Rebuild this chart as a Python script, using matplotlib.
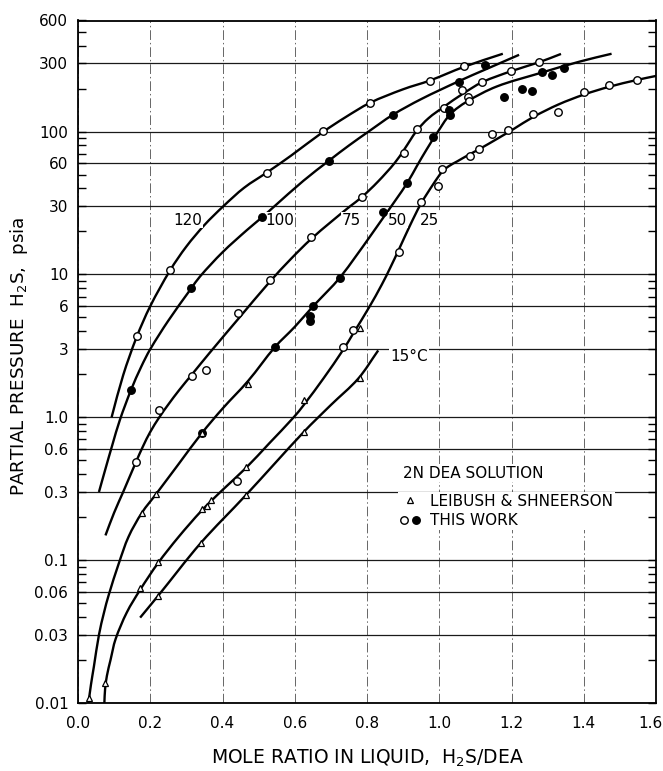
import matplotlib
matplotlib.use("Agg")
import numpy as np
import matplotlib.pyplot as plt
import matplotlib.transforms as mtransforms
from matplotlib.lines import Line2D
from matplotlib.path import Path
from matplotlib.patches import PathPatch
from matplotlib.legend_handler import HandlerTuple
from matplotlib.ticker import FixedLocator, NullFormatter

plt.rcParams['font.family'] = ['DejaVu Sans']

# ---------------- data ----------------
# smooth isotherm curves (x = mole ratio H2S/DEA, y = partial pressure psia)
c120_x = [0.093, 0.125, 0.162, 0.20, 0.255, 0.30, 0.35, 0.402, 0.46, 0.524, 0.59, 0.677, 0.74, 0.808, 0.90, 0.974, 1.068, 1.176]
c120_y = [1.0, 1.97, 3.63, 6.0, 10.7, 15.7, 22.2, 30, 40.5, 52, 68, 99, 126, 159, 198, 228, 284, 351]

c100_x = [0.058, 0.075, 0.095, 0.116, 0.147, 0.175, 0.20, 0.25, 0.312, 0.338, 0.40, 0.467, 0.51, 0.541, 0.624, 0.696, 0.75, 0.804, 0.871, 0.95, 1.055, 1.13, 1.221]
c100_y = [0.3, 0.427, 0.64, 0.96, 1.56, 2.26, 3.0, 4.75, 7.9, 9.7, 14.3, 20.4, 25.2, 29.6, 45.3, 63, 80, 100, 131, 169, 226, 274, 345]

c75_x = [0.076, 0.10, 0.125, 0.161, 0.18, 0.20, 0.225, 0.25, 0.28, 0.315, 0.365, 0.444, 0.531, 0.59, 0.644, 0.70, 0.753, 0.785, 0.83, 0.877, 0.903, 0.937, 0.97, 1.014, 1.065, 1.119, 1.199, 1.276, 1.337]
c75_y = [0.149, 0.215, 0.30, 0.49, 0.627, 0.79, 1.0, 1.23, 1.55, 1.99, 2.84, 4.9, 8.9, 12.9, 17.6, 23.3, 30, 34.7, 44.6, 60.5, 75, 101, 124, 150, 184, 222, 265, 306, 350]

c50_x = [0.029, 0.036, 0.044, 0.058, 0.072, 0.085, 0.113, 0.14, 0.177, 0.217, 0.278, 0.342, 0.40, 0.471, 0.545, 0.60, 0.651, 0.69, 0.725, 0.77, 0.808, 0.845, 0.88, 0.912, 0.939, 0.965, 0.993, 1.03, 1.076, 1.159, 1.279, 1.39, 1.477]
c50_y = [0.01, 0.0135, 0.018, 0.030, 0.043, 0.057, 0.095, 0.146, 0.215, 0.292, 0.469, 0.77, 1.15, 1.8, 3.1, 4.3, 6.0, 7.6, 9.5, 13.5, 18.4, 25, 33.4, 44, 58, 75, 97, 132, 162, 207, 257, 310, 351]

c25_x = [0.073, 0.075, 0.08, 0.09, 0.104, 0.135, 0.172, 0.221, 0.278, 0.342, 0.40, 0.464, 0.53, 0.597, 0.626, 0.68, 0.734, 0.762, 0.806, 0.841, 0.864, 0.889, 0.92, 0.949, 0.985, 1.007, 1.025, 1.05, 1.08, 1.113, 1.16, 1.205, 1.261, 1.33, 1.401, 1.47, 1.547, 1.602]
c25_y = [0.01, 0.0125, 0.0155, 0.02, 0.028, 0.043, 0.062, 0.095, 0.145, 0.222, 0.31, 0.44, 0.66, 1.0, 1.23, 1.88, 2.97, 3.87, 5.9, 8.5, 11.1, 15.1, 22.3, 31.2, 43.5, 52, 57, 62, 68.5, 76, 89, 104, 127, 155, 182, 206, 230, 246]

c15_x = [0.172, 0.221, 0.34, 0.464, 0.625, 0.70, 0.776, 0.831]
c15_y = [0.0396, 0.056, 0.132, 0.284, 0.79, 1.22, 1.87, 2.94]

# measured points
p120_x = [0.162, 0.255, 0.524, 0.677, 0.808, 0.974, 1.068]
p120_y = [3.73, 10.8, 51, 101, 159, 228, 288]

p100_x = [0.147, 0.312, 0.510, 0.696, 0.871, 1.055, 1.127]
p100_y = [1.56, 8.1, 25.3, 62.6, 131, 221, 293]

p75_x = [0.161, 0.225, 0.315, 0.354, 0.444, 0.531, 0.644, 0.785, 0.903, 0.938, 1.014, 1.064, 1.080, 1.082, 1.119, 1.199, 1.276]
p75_y = [0.49, 1.12, 1.94, 2.13, 5.4, 9.2, 18.2, 34.6, 71, 104, 146, 196, 174, 165, 222, 267, 305]

p50_x = [0.342, 0.545, 0.642, 0.642, 0.651, 0.724, 0.845, 0.912, 0.984, 1.027, 1.031, 1.179, 1.230, 1.258, 1.284, 1.313, 1.345]
p50_y = [0.78, 3.1, 4.7, 5.1, 6.0, 9.5, 27.6, 44, 91, 142, 131, 174, 198, 193, 262, 249, 278]

p25_x = [0.439, 0.734, 0.762, 0.889, 0.949, 0.997, 1.007, 1.085, 1.111, 1.145, 1.191, 1.260, 1.330, 1.401, 1.471, 1.547]
p25_y = [0.358, 3.1, 4.07, 14.3, 32, 41.6, 54.5, 67, 76, 96, 103, 132, 138, 191, 212, 231]

# Leibush & Shneerson (triangles)
t50_x = [0.030, 0.177, 0.217, 0.342, 0.471]
t50_y = [0.0108, 0.215, 0.292, 0.78, 1.7]
t25_x = [0.076, 0.172, 0.221, 0.342, 0.356, 0.367, 0.464, 0.626, 0.781]
t25_y = [0.0138, 0.064, 0.097, 0.229, 0.239, 0.262, 0.45, 1.32, 4.2]
t15_x = [0.221, 0.340, 0.464, 0.625, 0.781]
t15_y = [0.056, 0.132, 0.284, 0.79, 1.87]

# curve labels
curve_labels = ["120", "100", "75", "50", "25"]
curve_label_x = [0.305, 0.559, 0.758, 0.885, 0.972]
curve_label_y = [24, 24, 24, 24, 24]
label15 = "15°C"
label15_x, label15_y = 0.864, 2.67

y_ticks = [0.01, 0.03, 0.06, 0.1, 0.3, 0.6, 1.0, 3, 6, 10, 30, 60, 100, 300, 600]
y_tick_labels = ["0.01", "0.03", "0.06", "0.1", "0.3", "0.6", "1.0", "3", "6", "10", "30", "60", "100", "300", "600"]
y_minor = [0.02, 0.04, 0.05, 0.07, 0.08, 0.09, 0.2, 0.4, 0.5, 0.7, 0.8, 0.9,
           2, 4, 5, 7, 8, 9, 20, 40, 50, 70, 80, 90, 200, 400, 500]
x_ticks = [0.0, 0.2, 0.4, 0.6, 0.8, 1.0, 1.2, 1.4, 1.6]
x_tick_labels = ["0.0", "0.2", "0.4", "0.6", "0.8", "1.0", "1.2", "1.4", "1.6"]

# ---------------- figure ----------------
W, H = 663, 771
fig = plt.figure(figsize=(W / 100, H / 100), dpi=100)
ax = fig.add_axes([78 / W, (H - 703) / H, (656 - 78) / W, (703 - 20.5) / H])

ax.set_yscale('log')
ax.set_xlim(0, 1.6)
ax.set_ylim(0.01, 600)

ax.yaxis.set_major_locator(FixedLocator(y_ticks))
ax.set_yticklabels(y_tick_labels)
ax.yaxis.set_minor_locator(FixedLocator(y_minor))
ax.yaxis.set_minor_formatter(NullFormatter())
ax.set_xticks(x_ticks)
ax.set_xticklabels(x_tick_labels)

ax.tick_params(axis='y', which='both', direction='in', left=True, right=True,
               length=6, width=1.0, labelsize=11, pad=7, color='black')
ax.tick_params(axis='x', which='both', length=0, labelsize=11, pad=9)
# last x label sits at the figure edge, nudge it inward a little
lastlab = ax.get_xticklabels()[-1]
lastlab.set_transform(lastlab.get_transform() +
                      mtransforms.ScaledTranslation(-6 / 100, 0, fig.dpi_scale_trans))

ax.yaxis.grid(True, which='major', color='#1a1a1a', linewidth=0.9)
ax.xaxis.grid(True, which='major', color='#666666', linewidth=0.7,
              linestyle=(0, (10, 3, 1.5, 3)))
ax.set_axisbelow(True)
for s in ax.spines.values():
    s.set_linewidth(1.3)
    s.set_color('black')


def smooth_curve(ax, xs, ys, **kw):
    """Draw a smooth curve through the read-off points using cubic Bezier
    segments (chord-length Catmull-Rom tangents in x / log10(y) space)."""
    X = np.asarray(xs, float) / 1.6
    Y = np.log10(np.asarray(ys, float)) / np.log10(600 / 0.01)
    P = np.column_stack([X, Y])
    n = len(P)
    d = np.hypot(*np.diff(P, axis=0).T)
    m = np.zeros_like(P)
    m[0] = (P[1] - P[0]) / d[0]
    m[-1] = (P[-1] - P[-2]) / d[-1]
    for i in range(1, n - 1):
        m[i] = (P[i + 1] - P[i - 1]) / (d[i - 1] + d[i])
    verts = [P[0]]
    codes = [Path.MOVETO]
    for i in range(n - 1):
        verts += [P[i] + m[i] * d[i] / 3, P[i + 1] - m[i + 1] * d[i] / 3, P[i + 1]]
        codes += [Path.CURVE4] * 3
    V = np.array(verts)
    V[:, 0] = V[:, 0] * 1.6
    V[:, 1] = 10 ** (V[:, 1] * np.log10(600 / 0.01))
    patch = PathPatch(Path(V, codes), transform=ax.transData, fill=False, **kw)
    ax.add_patch(patch)


for cx, cy in [(c120_x, c120_y), (c100_x, c100_y), (c75_x, c75_y),
               (c50_x, c50_y), (c25_x, c25_y), (c15_x, c15_y)]:
    smooth_curve(ax, cx, cy, edgecolor='black', lw=1.7, capstyle='butt', zorder=3)

ms_c = 5.4
ms_t = 4.2
open_kw = dict(ls='none', marker='o', ms=ms_c, mfc='white', mec='black', mew=1.0, zorder=5)
fill_kw = dict(ls='none', marker='o', ms=ms_c, mfc='black', mec='black', mew=1.0, zorder=5)
tri_kw = dict(ls='none', marker='^', ms=ms_t, mfc='white', mec='black', mew=0.9, zorder=6)

ax.plot(p120_x, p120_y, **open_kw)
ax.plot(p100_x, p100_y, **fill_kw)
ax.plot(p75_x, p75_y, **open_kw)
ax.plot(p50_x, p50_y, **fill_kw)
ax.plot(p25_x, p25_y, **open_kw)
ax.plot(t50_x, t50_y, **tri_kw)
ax.plot(t25_x, t25_y, **tri_kw)
ax.plot(t15_x, t15_y, **tri_kw)

for lab, lx, ly in zip(curve_labels, curve_label_x, curve_label_y):
    ax.text(lx, ly, lab, ha='center', va='center', fontsize=11,
            bbox=dict(facecolor='white', edgecolor='none', pad=0.5), zorder=4)
ax.text(label15_x, label15_y, label15, ha='left', va='center', fontsize=11,
        bbox=dict(facecolor='white', edgecolor='none', pad=0.5), zorder=4)

# legend block
ax.text((402.7 - 78) / 578, (703 - 473.3) / 682.5, "2N DEA SOLUTION",
        transform=ax.transAxes, ha='left', va='center', fontsize=11,
        bbox=dict(facecolor='white', edgecolor='none', pad=1), zorder=4)
h_tri = Line2D([], [], ls='none', marker='^', ms=ms_t, mfc='white', mec='black', mew=0.9)
h_open = Line2D([], [], ls='none', marker='o', ms=ms_c, mfc='white', mec='black', mew=1.0)
h_fill = Line2D([], [], ls='none', marker='o', ms=ms_c, mfc='black', mec='black', mew=1.0)
leg = ax.legend([h_tri, (h_open, h_fill)], ["LEIBUSH & SHNEERSON", "THIS WORK"],
                handler_map={tuple: HandlerTuple(ndivide=None, pad=0.2)},
                loc='upper left', bbox_to_anchor=((398 - 78) / 578, (703 - 492) / 682.5),
                bbox_transform=ax.transAxes, frameon=True, fancybox=False,
                edgecolor='none', facecolor='white', framealpha=1.0,
                borderpad=0.1, borderaxespad=0, handlelength=1.4,
                handletextpad=0.6, labelspacing=0.3, fontsize=11)
leg.set_zorder(4)

fig.text(367 / W, 1 - 758 / H, "MOLE RATIO IN LIQUID,  H$_2$S/DEA",
         ha='center', va='center', fontsize=13.5)
fig.text(19 / W, 1 - 356 / H, "PARTIAL PRESSURE  H$_2$S,  psia",
         ha='center', va='center', rotation=90, fontsize=13.2)

fig.savefig("out.png", dpi=100)
